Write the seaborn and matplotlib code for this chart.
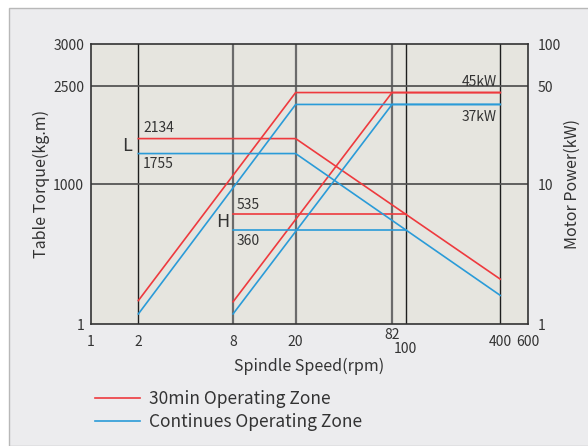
import numpy as np
import pandas as pd
import matplotlib
matplotlib.use("Agg")
import matplotlib.pyplot as plt
import seaborn as sns
from matplotlib.patches import Rectangle

# ---- data (speed in rpm, values drawn on the power scale in kW) ----
zones = ["30min Operating Zone", "Continues Operating Zone"]
zone_colors = ["#ee3a3e", "#2a9bd8"]

# L range power line
l_power_speed = [2, 20, 400]
l_power_30 = [1.47, 45, 45]
l_power_cont = [1.18, 37, 37]

# H range power line
h_power_speed = [8, 82, 400]
h_power_30 = [1.44, 45, 45]
h_power_cont = [1.18, 37, 37]

# L range torque line
l_torque_speed = [2, 20, 400]
l_torque_30 = [21.1, 21.1, 2.09]
l_torque_cont = [16.5, 16.5, 1.60]

# H range torque line
h_torque_speed = [8, 100]
h_torque_30 = [6.08, 6.08]
h_torque_cont = [4.72, 4.72]

x_ticks = [1, 2, 8, 20, 82, 100, 400, 600]
y_ticks = [1, 10, 50, 100]
torque_labels = ["1", "1000", "2500", "3000"]
power_labels = ["1", "10", "50", "100"]
grid_speeds = [2, 8, 20, 82, 100, 400]
grid_powers = [10, 50]

# build a long table for seaborn
rows = []
segments = [
    ("Lp", l_power_speed, l_power_30, l_power_cont),
    ("Hp", h_power_speed, h_power_30, h_power_cont),
    ("Lt", l_torque_speed, l_torque_30, l_torque_cont),
    ("Ht", h_torque_speed, h_torque_30, h_torque_cont),
]
for name, spd, v30, vcont in segments:
    for s, v in zip(spd, v30):
        rows.append((s, v, zones[0], name + "30"))
    for s, v in zip(spd, vcont):
        rows.append((s, v, zones[1], name + "c"))
df = pd.DataFrame(rows, columns=["speed", "power", "zone", "seg"])

plt.rcParams["font.family"] = ["Noto Sans CJK KR", "DejaVu Sans"]
text_col = "#333333"

fig = plt.figure(figsize=(5.88, 4.46), dpi=100)
fig.patch.set_facecolor("white")
fig.patches.append(Rectangle((9 / 588, 0), 1, (446 - 8) / 446, transform=fig.transFigure,
                             facecolor="#ececee", edgecolor="#b8b8b8", lw=1, zorder=-10))

ax = fig.add_axes([91 / 588, 122 / 446, 437 / 588, 280 / 446])
ax.set_facecolor("#e6e5df")

# grid
for g in grid_speeds:
    dark = g in (2, 100, 400)
    ax.axvline(g, color="#1e1e1e" if dark else "#6b6b6b", lw=1.0 if dark else 1.6, zorder=1)
for g in grid_powers:
    ax.axhline(g, color="#555555", lw=1.3, zorder=1)

sns.lineplot(data=df, x="speed", y="power", hue="zone", units="seg", estimator=None,
             sort=False, palette=dict(zip(zones, zone_colors)), lw=1.2, ax=ax, zorder=3)

ax.set_xscale("log")
ax.set_yscale("log")
ax.set_xlim(1, 600)
ax.set_ylim(1, 100)
for sp in ax.spines.values():
    sp.set_color("#333333")
    sp.set_linewidth(1.2)

ax.set_xticks(x_ticks)
ax.set_xticklabels([str(t) for t in x_ticks])
ax.xaxis.set_minor_locator(matplotlib.ticker.NullLocator())
ax.set_yticks(y_ticks)
ax.set_yticklabels(torque_labels)
ax.yaxis.set_minor_locator(matplotlib.ticker.NullLocator())
ax.tick_params(axis="both", length=0, labelsize=10, labelcolor=text_col)
ax.tick_params(axis="x", pad=8)
ax.tick_params(axis="y", pad=5)
xt = ax.xaxis.get_major_ticks()
xt[4].set_pad(3)
xt[5].set_pad(13)

ax.set_xlabel("Spindle Speed(rpm)", fontsize=11.5, color=text_col, labelpad=1)
ax.set_ylabel("Table Torque(kg.m)", fontsize=11.5, color=text_col, labelpad=2)

ax2 = ax.twinx()
ax2.set_yscale("log")
ax2.set_ylim(1, 100)
ax2.set_yticks(y_ticks)
ax2.set_yticklabels(power_labels)
ax2.yaxis.set_minor_locator(matplotlib.ticker.NullLocator())
ax2.tick_params(axis="y", length=0, labelsize=10, labelcolor=text_col, pad=7)
ax2.set_ylabel("Motor Power(kW)", fontsize=11.5, color=text_col, labelpad=2)
for sp in ax2.spines.values():
    sp.set_visible(False)

# annotations
ax.text(1.69, 18.7, "L", fontsize=13, color=text_col, ha="center", va="center")
ax.text(2.14, 25.1, "2134", fontsize=10, color=text_col, ha="left", va="center")
ax.text(2.14, 13.9, "1755", fontsize=10, color=text_col, ha="left", va="center")
ax.text(6.9, 5.35, "H", fontsize=13, color=text_col, ha="center", va="center")
ax.text(8.48, 7.08, "535", fontsize=10, color=text_col, ha="left", va="center")
ax.text(8.48, 3.92, "360", fontsize=10, color=text_col, ha="left", va="center")
ax.text(381, 53.8, "45kW", fontsize=10, color=text_col, ha="right", va="center")
ax.text(381, 30.3, "37kW", fontsize=10, color=text_col, ha="right", va="center")

# legend below the chart
handles, labels = ax.get_legend_handles_labels()
ax.legend_.remove()
fig.legend(handles, labels, loc="upper left", bbox_to_anchor=(79 / 588, 1 - 374 / 446),
           frameon=False, fontsize=12.5, handlelength=2.6, handletextpad=0.55,
           labelspacing=0.3, labelcolor=text_col)

fig.savefig("out.png", dpi=100)
